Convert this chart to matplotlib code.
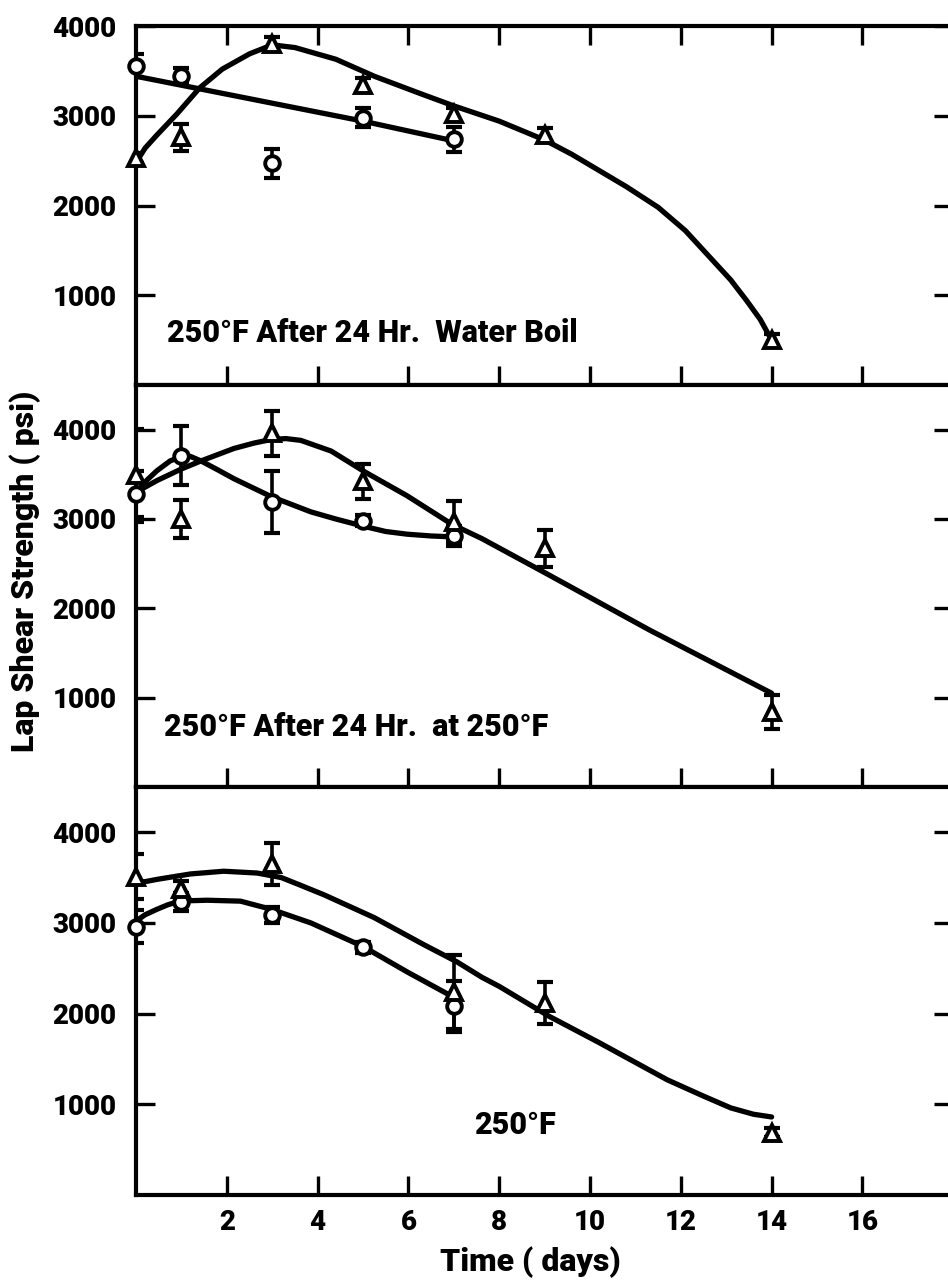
import numpy as np
import matplotlib.pyplot as plt

plt.rcParams['font.family'] = ['Roboto', 'DejaVu Sans']
plt.rcParams['font.stretch'] = 'condensed'
plt.rcParams['font.weight'] = 'heavy'

# Measured points (days, psi, +/- error)
circ_days = [0, 1, 3, 5, 7]
tri_days = [0, 1, 3, 5, 7, 9, 14]
tri_days_bot = [0, 1, 3, 7, 9, 14]

# 250F after 24 hr water boil
top_circ = [3560, 3440, 2470, 2980, 2740]
top_circ_err = [130, 90, 160, 110, 140]
top_tri = [2530, 2760, 3800, 3340, 3020, 2790, 500]
top_tri_err = [60, 150, 80, 80, 70, 70, 70]

# 250F after 24 hr at 250F
mid_circ = [3280, 3710, 3190, 2980, 2810]
mid_circ_err = [260, 330, 350, 60, 110]
mid_tri = [3490, 3000, 3960, 3420, 2970, 2670, 840]
mid_tri_err = [520, 210, 250, 200, 230, 210, 190]

# 250F
bot_circ = [2960, 3230, 3090, 2730, 2080]
bot_circ_err = [180, 100, 90, 60, 280]
bot_tri = [3510, 3370, 3650, 2240, 2120, 685]
bot_tri_err = [250, 90, 230, 410, 230, 50]

# Hand drawn fit curves
top_circ_fit_x = [0, 1, 3, 5, 7]
top_circ_fit_y = [3440, 3340, 3140, 2940, 2720]
top_tri_fit_x = [0, 0.2, 0.45, 0.9, 1.4, 1.9, 2.5, 3.0, 3.5, 4.4, 5.25, 6.3, 7.0, 8.0, 9.0,
                 9.6, 10.2, 10.8, 11.5, 12.1, 12.7, 13.1, 13.45, 13.75, 14]
top_tri_fit_y = [2480, 2640, 2780, 3020, 3310, 3520, 3690, 3790, 3760, 3630, 3440, 3240, 3110, 2940, 2730,
                 2570, 2390, 2210, 1980, 1720, 1390, 1170, 940, 730, 500]

mid_circ_fit_x = [0, 0.25, 0.46, 0.75, 1.0, 1.2, 1.43, 1.8, 2.16, 2.98, 3.85, 4.4, 5.0, 5.5, 5.97, 6.5, 6.96]
mid_circ_fit_y = [3300, 3440, 3540, 3650, 3700, 3700, 3650, 3550, 3450, 3250, 3080, 3000, 2920, 2860, 2830, 2810, 2800]
mid_tri_fit_x = [0, 0.46, 1.0, 1.43, 2.16, 2.6, 2.98, 3.3, 3.63, 4.3, 5.03, 5.97, 6.96, 7.62, 9.0, 11.3, 14]
mid_tri_fit_y = [3300, 3430, 3560, 3650, 3790, 3850, 3890, 3900, 3880, 3760, 3530, 3260, 2940, 2780, 2400, 1760, 1050]

bot_circ_fit_x = [0, 0.2, 0.46, 0.7, 0.9, 1.2, 1.57, 2.3, 2.98, 3.85, 5.0, 5.97, 6.96]
bot_circ_fit_y = [3020, 3090, 3150, 3200, 3230, 3245, 3250, 3240, 3150, 3000, 2740, 2460, 2190]
bot_tri_fit_x = [0, 0.2, 0.46, 1.2, 1.93, 2.67, 3.2, 3.6, 4.14, 5.24, 6.34, 7.07, 7.62, 8.0, 9.1,
                 10.2, 11.7, 12.5, 13.1, 13.6, 14]
bot_tri_fit_y = [3450, 3455, 3480, 3540, 3570, 3550, 3500, 3420, 3310, 3060, 2760, 2570, 2400, 2300, 1970,
                 1680, 1270, 1090, 960, 890, 860]

x_ticks = [2, 4, 6, 8, 10, 12, 14, 16]
y_ticks = [1000, 2000, 3000, 4000]


def draw_panel(ax, ymax, circ, circ_err, tdays, tri, tri_err,
               cfx, cfy, tfx, tfy, label, lx, ly, top_ticks=False, xlabels=False):
    ax.plot(cfx, cfy, color='black', lw=3.8, solid_joinstyle='round', solid_capstyle='round', zorder=2)
    ax.plot(tfx, tfy, color='black', lw=3.8, solid_joinstyle='round', solid_capstyle='round', zorder=2)
    ax.errorbar(circ_days, circ, yerr=circ_err, fmt='none', ecolor='black',
                elinewidth=2.6, capsize=6, capthick=3, zorder=3)
    ax.errorbar(tdays, tri, yerr=tri_err, fmt='none', ecolor='black',
                elinewidth=2.6, capsize=6, capthick=3, zorder=3)
    ax.plot(circ_days, circ, 'o', ms=10.5, mfc='white', mec='black', mew=2.8, zorder=4, clip_on=False)
    ax.plot(tdays, tri, '^', ms=11, mfc='white', mec='black', mew=2.8, zorder=4, clip_on=False)

    ax.set_xlim(0, 18)
    ax.set_ylim(0, ymax)
    ax.set_xticks(x_ticks)
    ax.set_yticks(y_ticks)
    ax.tick_params(axis='both', direction='in', length=14, width=2.4, labelsize=20, pad=14)
    ax.tick_params(axis='y', left=True, right=True)
    ax.tick_params(axis='x', bottom=True, top=top_ticks, labelbottom=xlabels, pad=10)
    for s in ax.spines.values():
        s.set_linewidth(3)
    ax.text(lx, ly, label, fontsize=22, va='center', ha='left')


fig = plt.figure(figsize=(9.48, 12.82), dpi=100)
ax1 = fig.add_axes([0.1435, 0.6997, 0.862, 0.2800])
ax2 = fig.add_axes([0.1435, 0.3861, 0.862, 0.3136])
ax3 = fig.add_axes([0.1435, 0.0679, 0.862, 0.3183])

draw_panel(ax1, 4000, top_circ, top_circ_err, tri_days, top_tri, top_tri_err,
           top_circ_fit_x, top_circ_fit_y, top_tri_fit_x, top_tri_fit_y,
           '250°F After 24 Hr.  Water Boil', 0.68, 580, top_ticks=True)
draw_panel(ax2, 4500, mid_circ, mid_circ_err, tri_days, mid_tri, mid_tri_err,
           mid_circ_fit_x, mid_circ_fit_y, mid_tri_fit_x, mid_tri_fit_y,
           '250°F After 24 Hr.  at 250°F', 0.62, 674)
draw_panel(ax3, 4500, bot_circ, bot_circ_err, tri_days_bot, bot_tri, bot_tri_err,
           bot_circ_fit_x, bot_circ_fit_y, bot_tri_fit_x, bot_tri_fit_y,
           '250°F', 7.44, 773, xlabels=True)

fig.text(0.559, 0.0156, 'Time ( days)', fontsize=23, ha='center', va='center')
fig.text(0.026, 0.5546, 'Lap Shear Strength ( psi)', fontsize=23,
         ha='center', va='center', rotation=90)

fig.savefig('out.png', dpi=100)
